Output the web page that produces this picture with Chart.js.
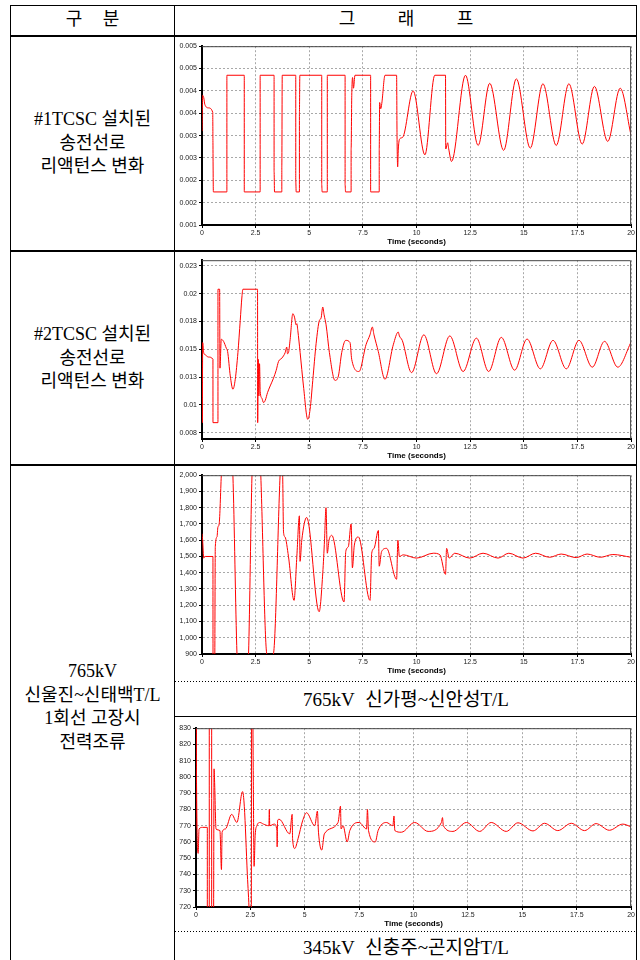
<!DOCTYPE html>
<html>
<head>
<meta charset="utf-8">
<script src="https://cdn.jsdelivr.net/npm/chart.js"></script>
<style>
    body {
        margin: 0;
        width: 640px;
        height: 960px;
        position: relative;
        overflow: hidden;
        background: #fff;
        color: #000;
        font-family: 'Liberation Serif', 'Noto Sans CJK KR', serif;
    }
    .line { position: absolute; background: #000; }
    .dots {
        position: absolute;
        height: 1px;
        background: repeating-linear-gradient(90deg, #000 0 1px, transparent 1px 3px);
    }
    .txt {
        position: absolute;
        text-align: center;
        font-size: 18px;
        line-height: 23.5px;
        white-space: nowrap;
    }
    .plot { position: absolute; }
</style>
</head>
<body>

<!-- table lines -->
<div class="line" style="left:10px;top:5px;width:627px;height:1px"></div>
<div class="line" style="left:10px;top:5px;width:1px;height:960px"></div>
<div class="line" style="left:636px;top:5px;width:1px;height:960px"></div>
<div class="line" style="left:174px;top:5px;width:1px;height:960px"></div>
<div class="line" style="left:10px;top:35px;width:627px;height:2px"></div>
<div class="line" style="left:10px;top:250px;width:627px;height:2px"></div>
<div class="line" style="left:10px;top:464px;width:627px;height:2px"></div>
<div class="dots" style="left:175px;top:681px;width:461px"></div>
<div class="line" style="left:175px;top:716px;width:461px;height:1px"></div>
<div class="dots" style="left:175px;top:931px;width:461px"></div>

<!-- table text -->
<div class="txt" style="left:10px;top:8px;width:165px;word-spacing:16px">구 분</div>
<div class="txt" style="left:175px;top:8px;width:462px;word-spacing:38px">그 래 프</div>
<div class="txt" style="left:10px;top:108px;width:165px">#1TCSC 설치된<br>송전선로<br>리액턴스 변화</div>
<div class="txt" style="left:10px;top:323px;width:165px">#2TCSC 설치된<br>송전선로<br>리액턴스 변화</div>
<div class="txt" style="left:10px;top:660px;width:165px">765kV<br>신울진~신태백T/L<br>1회선 고장시<br>전력조류</div>
<div class="txt" style="left:175px;top:688px;width:462px;font-size:19px;word-spacing:6px">765kV 신가평~신안성T/L</div>
<div class="txt" style="left:175px;top:936px;width:462px;font-size:19px;word-spacing:6px">345kV 신충주~곤지암T/L</div>

<!-- charts -->
<div class="plot" style="left:177px;top:40px;width:459px;height:209px"><canvas id="chart1"></canvas></div>
<div class="plot" style="left:177px;top:254px;width:459px;height:209px"><canvas id="chart2"></canvas></div>
<div class="plot" style="left:177px;top:469px;width:459px;height:209px"><canvas id="chart3"></canvas></div>
<div class="plot" style="left:177px;top:722px;width:459px;height:209px"><canvas id="chart4"></canvas></div>

<script>
// shared time axis
const timeTicks = [0, 2.5, 5, 7.5, 10, 12.5, 15, 17.5, 20];
const timeLabels = ['0', '2.5', '5', '7.5', '10', '12.5', '15', '17.5', '20'];

// #1 TCSC reactance, [time, value]
const tcsc1Ticks = [0.001, 0.0015, 0.002, 0.0025, 0.003, 0.0035, 0.004, 0.0045, 0.005];
const tcsc1Labels = ['0.001', '0.002', '0.002', '0.003', '0.003', '0.004', '0.004', '0.005', '0.005'];
const tcsc1Points = [
    [0, 0.0031], [0.03, 0.0039], [0.08, 0.00385], [0.13, 0.0037], [0.3, 0.00362], [0.5, 0.00352],
    [0.51, 0.00285], [0.53, 0.00174], [1.16, 0.00174], [1.16, 0.00435], [1.97, 0.00435],
    [1.97, 0.00174], [2.71, 0.00174], [2.71, 0.00435], [3.36, 0.00435], [3.36, 0.0022],
    [3.38, 0.00174], [3.72, 0.00174], [3.72, 0.0023], [3.74, 0.00435], [4.37, 0.00435],
    [4.37, 0.002], [4.39, 0.00174], [4.54, 0.00174], [4.54, 0.0035], [4.56, 0.00435],
    [5.58, 0.00435], [5.58, 0.0019], [5.6, 0.00174], [5.84, 0.00174], [5.84, 0.00435],
    [6.67, 0.00435], [6.67, 0.0019], [6.69, 0.00174], [6.95, 0.00174], [6.95, 0.0027],
    [6.98, 0.0039], [7.02, 0.0043], [7.06, 0.00406], [7.13, 0.00435], [7.86, 0.00435],
    [7.86, 0.00174], [8.26, 0.00174], [8.26, 0.0027], [8.28, 0.00374], [8.33, 0.0036],
    [8.38, 0.00372], [8.53, 0.00435], [9.07, 0.00435], [9.09, 0.003], [9.12, 0.0023],
    [9.15, 0.0027], [9.22, 0.00293], [9.35, 0.00296], [9.84, 0.004], [10.39, 0.00257],
    [10.85, 0.00435], [11.35, 0.00435], [11.36, 0.0027], [11.45, 0.00284], [11.5, 0.0027],
    [11.63, 0.00242], [12.28, 0.00435], [12.87, 0.00278], [13.41, 0.00417], [14.06, 0.00267],
    [14.65, 0.00427], [15.3, 0.00272], [15.89, 0.00416], [16.51, 0.00278], [17.1, 0.00416],
    [17.72, 0.00281], [18.29, 0.0041], [18.91, 0.00287], [19.49, 0.00406], [20, 0.003]
];

// #2 TCSC reactance
const tcsc2Ticks = [0.0075, 0.01, 0.0125, 0.015, 0.0175, 0.02, 0.0225];
const tcsc2Labels = ['0.008', '0.01', '0.013', '0.015', '0.018', '0.02', '0.023'];
const tcsc2Points = [
    [0, 0.0133], [0.016, 0.0084], [0.031, 0.0156], [0.078, 0.0147], [0.155, 0.0145], [0.3, 0.0143],
    [0.51, 0.0141], [0.512, 0.0084], [0.744, 0.0084], [0.744, 0.0204], [0.822, 0.0204],
    [0.837, 0.0133], [0.899, 0.0159], [1.008, 0.0157], [1.132, 0.0151], [1.194, 0.0148],
    [1.318, 0.0126], [1.442, 0.0114], [1.55, 0.0123], [1.674, 0.0147], [1.783, 0.0176],
    [1.86, 0.0197], [1.907, 0.0204], [2.589, 0.0204], [2.595, 0.0084], [2.62, 0.0141],
    [2.651, 0.0108], [2.682, 0.0137], [2.713, 0.0112], [2.791, 0.0106], [2.868, 0.0102],
    [2.946, 0.0104], [3.054, 0.0111], [3.178, 0.0117], [3.333, 0.0124], [3.457, 0.0131],
    [3.566, 0.0139], [3.721, 0.0142], [3.876, 0.0147], [3.95, 0.0152], [3.984, 0.0146],
    [4.031, 0.0147], [4.109, 0.0159], [4.233, 0.0182], [4.31, 0.0179], [4.388, 0.0172],
    [4.42, 0.0173], [4.465, 0.0167], [4.574, 0.0147], [4.729, 0.0117], [4.93, 0.0087],
    [5.039, 0.0096], [5.163, 0.0122], [5.318, 0.0155], [5.473, 0.0176], [5.55, 0.0178],
    [5.628, 0.0188], [5.69, 0.0181], [5.783, 0.0172], [5.938, 0.0147], [6.2, 0.0122],
    [6.357, 0.0126], [6.512, 0.0147], [6.698, 0.0158], [6.899, 0.0156], [6.977, 0.0141],
    [7.318, 0.013], [7.643, 0.0154], [7.829, 0.0163], [7.938, 0.017], [8.016, 0.0163],
    [8.217, 0.0148], [8.527, 0.0123], [8.915, 0.0154], [9.147, 0.01655], [9.2, 0.0162],
    [9.333, 0.0158], [9.767, 0.0129], [10.34, 0.0163], [10.93, 0.0128], [11.55, 0.0162],
    [12.17, 0.013], [12.79, 0.016], [13.36, 0.013], [13.95, 0.01607], [14.57, 0.01312],
    [15.15, 0.01592], [15.77, 0.01324], [16.36, 0.0158], [16.98, 0.01324], [17.57, 0.0158],
    [18.19, 0.01339], [18.76, 0.01571], [19.38, 0.01339], [20, 0.01565]
];

// 765kV 신가평~신안성 power flow
const flow765Ticks = [900, 1000, 1100, 1200, 1300, 1400, 1500, 1600, 1700, 1800, 1900, 2000];
const flow765Labels = ['900', '1,000', '1,100', '1,200', '1,300', '1,400', '1,500', '1,600', '1,700', '1,800', '1,900', '2,000'];
const flow765Points = [
    [0, 1640], [0.03, 1600], [0.08, 1490], [0.15, 1500], [0.51, 1500], [0.515, 600], [0.585, 600],
    [0.62, 1560], [0.7, 1620], [0.74, 1680], [0.8, 1700], [0.9, 2000], [1.05, 2400], [1.25, 2400],
    [1.44, 2000], [1.63, 900], [1.8, 500], [2.0, 500], [2.17, 900], [2.33, 2000], [2.5, 2400],
    [2.65, 2300], [2.74, 2000], [3.02, 900], [3.18, 870], [3.33, 900], [3.64, 2000], [3.7, 2150],
    [3.76, 2000], [3.8, 1650], [3.87, 1620], [4.03, 1500], [4.29, 1230], [4.42, 1500], [4.54, 1750],
    [4.57, 1470], [4.65, 1600], [4.88, 1740], [5.46, 1160], [5.63, 1400], [5.71, 1600], [5.78, 1800],
    [5.84, 1520], [5.92, 1600], [6.05, 1630], [6.62, 1220], [6.7, 1530], [6.82, 1560], [6.95, 1700],
    [7.01, 1430], [7.1, 1570], [7.29, 1620], [7.83, 1230], [7.91, 1520], [8.02, 1550], [8.22, 1660],
    [8.26, 1440], [8.37, 1530], [8.6, 1550], [9.07, 1360], [9.13, 1600], [9.2, 1500], [9.38, 1510],
    [10.0, 1490], [10.78, 1520], [11.09, 1510], [11.35, 1390], [11.4, 1550], [11.52, 1490],
    [11.78, 1520], [12.48, 1490], [13.1, 1520], [13.8, 1490], [14.3, 1520], [14.96, 1490],
    [15.55, 1520], [16.2, 1495], [16.74, 1515], [17.44, 1493], [17.95, 1515], [18.57, 1495],
    [19.15, 1512], [20, 1495]
];

// 345kV 신충주~곤지암 power flow
const flow345Ticks = [720, 730, 740, 750, 760, 770, 780, 790, 800, 810, 820, 830];
const flow345Labels = ['720', '730', '740', '750', '760', '770', '780', '790', '800', '810', '820', '830'];
const flow345Points = [
    [0, 769], [0.005, 860], [0.02, 805], [0.1, 753], [0.14, 768], [0.3, 769], [0.52, 769],
    [0.52, 680], [0.61, 680], [0.61, 860], [0.72, 860], [0.72, 680], [0.8, 680], [0.83, 805],
    [0.86, 795], [0.92, 768], [1.1, 767], [1.17, 743], [1.2, 766], [1.35, 768], [1.64, 777],
    [1.88, 772], [2.14, 791], [2.22, 782], [2.36, 740], [2.45, 715], [2.5, 690], [2.54, 700],
    [2.56, 860], [2.6, 860], [2.63, 806], [2.67, 745], [2.72, 764], [2.8, 770], [2.94, 772],
    [3.1, 771], [3.35, 770], [3.37, 780], [3.39, 770], [3.6, 771], [3.72, 767], [3.73, 757],
    [3.75, 773], [3.82, 774], [4.31, 765], [4.42, 777], [4.44, 762], [4.54, 756], [4.69, 762],
    [4.9, 773], [5.08, 778], [5.46, 770], [5.58, 779], [5.63, 766], [5.78, 755], [5.9, 765],
    [6.53, 772], [6.64, 782], [6.67, 768], [6.76, 770], [6.95, 760], [7.07, 767], [7.5, 772],
    [7.84, 768], [7.88, 780], [7.93, 767], [8.24, 760], [8.37, 767], [8.75, 772], [9.05, 770],
    [9.1, 776], [9.14, 767], [9.44, 766], [10.05, 772], [10.67, 766.5], [11.28, 772], [11.33, 775],
    [11.37, 770], [11.81, 766.5], [12.43, 772], [13.04, 766.5], [13.57, 772], [14.26, 766.5],
    [14.8, 771.8], [15.49, 766.8], [16.02, 771.5], [16.63, 767], [17.25, 771.5], [17.86, 767],
    [18.39, 771.3], [19.0, 767.2], [19.62, 771], [20, 769.3]
];

// top and right edge of the plot box
const framePlugin = {
    id: 'frame',
    afterDraw: function(chart) {
        const a = chart.chartArea;
        const ctx = chart.ctx;
        ctx.save();
        ctx.strokeStyle = '#444';
        ctx.lineWidth = 1;
        ctx.beginPath();
        ctx.moveTo(a.left, a.top + 0.5);
        ctx.lineTo(a.right - 0.5, a.top + 0.5);
        ctx.lineTo(a.right - 0.5, a.bottom);
        ctx.stroke();
        ctx.restore();
    }
};

function initialiseChart(id, points, yMin, yMax, yTicks, yLabels, yWidth) {
    const tickFont = { family: 'Liberation Sans', size: 7 };
    new Chart(document.getElementById(id), {
        type: 'line',
        data: {
            datasets: [{
                data: points.map(p => ({ x: p[0], y: p[1] })),
                borderColor: '#ff0000',
                borderWidth: 1,
                borderJoinStyle: 'round',
                pointRadius: 0,
                fill: false,
                cubicInterpolationMode: 'monotone',
                capBezierPoints: false
            }]
        },
        options: {
            animation: false,
            responsive: true,
            maintainAspectRatio: false,
            events: [],
            layout: { padding: { top: 5, right: 4, left: 0, bottom: 0 } },
            plugins: { legend: { display: false }, tooltip: { enabled: false } },
            scales: {
                x: {
                    type: 'linear',
                    min: 0,
                    max: 20,
                    afterBuildTicks: function(axis) {
                        axis.ticks = timeTicks.map(v => ({ value: v }));
                    },
                    afterFit: function(axis) { axis.height = 24; },
                    ticks: {
                        autoSkip: false,
                        maxRotation: 0,
                        padding: 1,
                        color: '#222',
                        font: tickFont,
                        callback: function(value, index) { return timeLabels[index]; }
                    },
                    grid: { color: '#a8a8a8', tickColor: '#000', tickLength: 3, tickBorderDash: [] },
                    border: { display: true, color: '#000', width: 2, dash: [2, 2] },
                    title: {
                        display: true,
                        text: 'Time (seconds)',
                        color: '#000',
                        font: { family: 'Liberation Sans', size: 8, weight: 'bold' },
                        padding: { top: 0, bottom: 2 }
                    }
                },
                y: {
                    type: 'linear',
                    min: yMin,
                    max: yMax,
                    afterBuildTicks: function(axis) {
                        axis.ticks = yTicks.map(v => ({ value: v }));
                    },
                    afterFit: function(axis) { axis.width = yWidth; },
                    ticks: {
                        autoSkip: false,
                        padding: 2,
                        color: '#222',
                        font: tickFont,
                        callback: function(value, index) { return yLabels[index]; }
                    },
                    grid: { color: '#a8a8a8', tickColor: '#000', tickLength: 3, tickBorderDash: [] },
                    border: { display: true, color: '#000', width: 2, dash: [2, 2] }
                }
            }
        },
        plugins: [framePlugin]
    });
}

initialiseChart('chart1', tcsc1Points, 0.001, 0.005, tcsc1Ticks, tcsc1Labels, 25);
initialiseChart('chart2', tcsc2Points, 0.00693, 0.02301, tcsc2Ticks, tcsc2Labels, 25);
initialiseChart('chart3', flow765Points, 900, 2000, flow765Ticks, flow765Labels, 25);
initialiseChart('chart4', flow345Points, 720, 830, flow345Ticks, flow345Labels, 19);
</script>
</body>
</html>
